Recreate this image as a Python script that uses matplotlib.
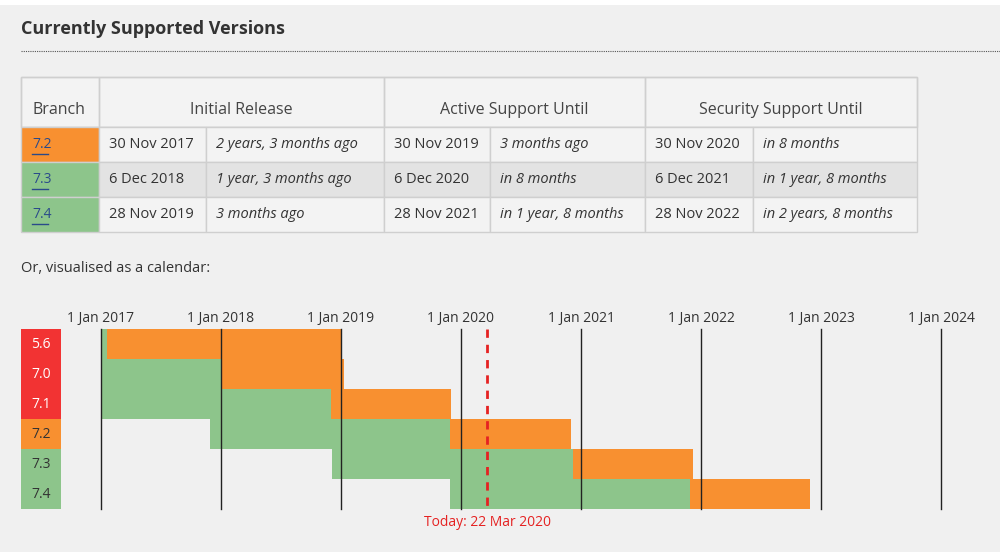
import matplotlib
matplotlib.use("Agg")
import matplotlib.pyplot as plt
import matplotlib.dates as mdates
from matplotlib.patches import Rectangle
import datetime as dt

# ---- data ----
branches = ["5.6", "7.0", "7.1", "7.2", "7.3", "7.4"]
release = ["2014-08-28", "2015-12-03", "2016-12-01", "2017-11-30", "2018-12-06", "2019-11-28"]
active_until = ["2017-01-19", "2018-01-04", "2018-12-01", "2019-11-30", "2020-12-06", "2021-11-28"]
security_until = ["2018-12-31", "2019-01-10", "2019-12-01", "2020-11-30", "2021-12-06", "2022-11-28"]
status = ["eol", "eol", "eol", "security", "active", "active"]
year_ticks = [2017, 2018, 2019, 2020, 2021, 2022, 2023, 2024]
today = "2020-03-22"

table_branches = ["7.2", "7.3", "7.4"]
table_release = ["30 Nov 2017", "6 Dec 2018", "28 Nov 2019"]
table_release_rel = ["2 years, 3 months ago", "1 year, 3 months ago", "3 months ago"]
table_active = ["30 Nov 2019", "6 Dec 2020", "28 Nov 2021"]
table_active_rel = ["3 months ago", "in 8 months", "in 1 year, 8 months"]
table_security = ["30 Nov 2020", "6 Dec 2021", "28 Nov 2022"]
table_security_rel = ["in 8 months", "in 1 year, 8 months", "in 2 years, 8 months"]
headers = ["Branch", "Initial Release", "Active Support Until", "Security Support Until"]

# ---- style ----
FONT = "Open Sans"
BG = "#f0f0f0"
ORANGE = "#f89030"
GREEN = "#8dc58b"
RED = "#f23333"
TXT = "#333333"
BORDER = "#cfcfcf"
status_col = {"eol": RED, "security": ORANGE, "active": GREEN}

fig = plt.figure(figsize=(10, 5.6), dpi=100)
fig.patch.set_facecolor(BG)
ax = fig.add_axes([0, 0, 1, 1])
ax.set_xlim(0, 1000); ax.set_ylim(560, 0); ax.axis("off")
ax.add_patch(Rectangle((0, 0), 1000, 5, color="white", lw=0))
ax.add_patch(Rectangle((0, 552), 1000, 8, color="white", lw=0))

ax.text(21, 29, "Currently Supported Versions", fontsize=13, fontweight="bold",
        family=FONT, color=TXT, va="center")
ax.plot([21, 1000], [51, 51], ls=(0, (1, 1)), color="#555", lw=0.8)

# table
cols = [21, 99, 206, 384, 490, 645, 753, 917]
ytop, yhead = 77, 127
rowh = 35
ax.add_patch(Rectangle((21, ytop), 896, yhead - ytop, facecolor="#f3f3f3", edgecolor=BORDER, lw=1))
hspans = [(21, 99), (99, 384), (384, 645), (645, 917)]
for (a, b), h in zip(hspans, headers):
    ax.add_patch(Rectangle((a, ytop), b - a, yhead - ytop, facecolor="none", edgecolor=BORDER, lw=1))
    if h == "Branch":
        ax.text(a + 12, 110, h, fontsize=11.5, family=FONT, color="#444", va="center")
    else:
        ax.text((a + b) / 2, 110, h, fontsize=11.5, family=FONT, color="#444", va="center", ha="center")
row_bg = ["#f3f3f3", "#e3e3e3", "#f3f3f3"]
row_status = ["security", "active", "active"]
for i in range(3):
    y0 = yhead + i * rowh
    cells = [table_branches[i], table_release[i], table_release_rel[i], table_active[i],
             table_active_rel[i], table_security[i], table_security_rel[i]]
    for j in range(7):
        fc = status_col[row_status[i]] if j == 0 else row_bg[i]
        ax.add_patch(Rectangle((cols[j], y0), cols[j + 1] - cols[j], rowh, facecolor=fc, edgecolor=BORDER, lw=1))
        style = "italic" if j in (2, 4, 6) else "normal"
        if j == 0:
            ax.text(cols[j] + 11, y0 + rowh / 2, cells[j], fontsize=10, family=FONT,
                    color="#2a4a8a", va="center")
            ax.plot([cols[j] + 11, cols[j] + 27], [y0 + 27, y0 + 27], color="#2a4a8a", lw=1)
        else:
            ax.text(cols[j] + 10, y0 + rowh / 2, cells[j], fontsize=10.5, family=FONT,
                    color=TXT, va="center", style=style)

ax.text(21, 268, "Or, visualised as a calendar:", fontsize=10.5, family=FONT, color=TXT, va="center")

# branch labels for calendar
cy0, crow = 329, 30
for i, (b, s) in enumerate(zip(branches, status)):
    ax.add_patch(Rectangle((21, cy0 + i * crow), 40, crow, color=status_col[s], lw=0))
    ax.text(41, cy0 + i * crow + crow / 2, b, fontsize=10, family=FONT,
            color="white" if s == "eol" else TXT, ha="center", va="center")

# calendar axes (pixels 101..941, y 329..509)
cal = fig.add_axes([101 / 1000, (560 - 509) / 560, 840 / 1000, 180 / 560])
cal.set_facecolor("none")
for sp in cal.spines.values():
    sp.set_visible(False)
cal.set_xticks([]); cal.set_yticks([])
d = lambda s: mdates.date2num(dt.date.fromisoformat(s))
x0, x1 = mdates.date2num(dt.date(year_ticks[0], 1, 1)), mdates.date2num(dt.date(year_ticks[-1], 1, 1))
cal.set_xlim(x0, x1); cal.set_ylim(len(branches), 0)
for i in range(len(branches)):
    cal.barh(i + 0.5, d(active_until[i]) - d(release[i]), left=d(release[i]), height=1.0,
             color=GREEN, lw=0)
    cal.barh(i + 0.5, d(security_until[i]) - d(active_until[i]), left=d(active_until[i]),
             height=1.0, color=ORANGE, lw=0)
for yr in year_ticks:
    xv = mdates.date2num(dt.date(yr, 1, 1))
    cal.plot([xv, xv], [0, len(branches)], color="#222", lw=1, clip_on=False)
    cal.text(xv, -0.35, f"1 Jan {yr}", fontsize=10, family=FONT, color=TXT, ha="center", va="center",
             clip_on=False)
tv = d(today)
cal.plot([tv, tv], [0, len(branches)], color="#e52222", lw=2, ls=(0, (3, 2.5)), clip_on=False)
dt_today = dt.date.fromisoformat(today)
cal.text(tv, len(branches) + 0.45, f"Today: {dt_today.day} {dt_today.strftime('%b %Y')}",
         fontsize=10, family=FONT, color="#e52222", ha="center", va="center", clip_on=False)

fig.savefig("out.png", dpi=100, facecolor=BG)
